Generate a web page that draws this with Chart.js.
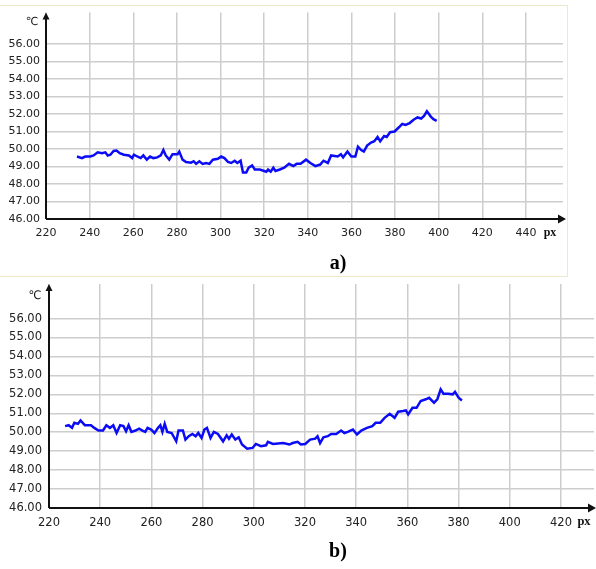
<!DOCTYPE html>
<html>
<head>
<meta charset="utf-8">
<script src="https://cdn.jsdelivr.net/npm/chart.js@4"></script>
<style>
  body { margin: 0; background: #fff; width: 596px; height: 569px; overflow: hidden; position: relative; }
  canvas { position: absolute; left: 0; }
  #frameA { position: absolute; left: -1px; top: 5px; width: 567px; height: 270px; border: 1px solid #efe9cc; }
  .cap { position: absolute; font: bold 20px "Liberation Serif", serif; color: #000; width: 60px; text-align: center; }
</style>
</head>
<body>
<div id="frameA"></div>
<canvas id="chartA" width="596" height="250" style="top:0"></canvas>
<canvas id="chartB" width="596" height="280" style="top:270px"></canvas>
<div class="cap" style="left:308px; top:251px">a)</div>
<div class="cap" style="left:308px; top:539px">b)</div>
<script>
// temperature along the profile, chart a)
const aX = [234.2, 236.5, 238, 240.3, 241.8, 243.7, 245.7, 247.2, 248.3, 249.5, 251, 252.3, 253.8, 255.7, 258, 259.5,
  260.3, 261.8, 263.4, 264.6, 266.2, 267.7, 269.2, 271, 272.6, 273.8, 274.9, 276.5, 278, 280.3, 281.1, 282.6, 284.2,
  286.5, 287.7, 288.8, 290.3, 291.8, 293.4, 294.9, 296.5, 298.8, 300.3, 301.8, 303.4, 304.9, 306.5, 307.7, 309.2,
  310.3, 311.8, 312.9, 314.5, 315.7, 318, 321, 321.8, 323, 324.2, 325.2, 327.2, 329.2, 331.4, 333.4, 334.9, 336.7,
  339.2, 341.2, 343.5, 345.7, 347.2, 349.2, 350.7, 353.7, 355.2, 356.2, 358.2, 360, 361.8, 363, 364.5, 365.7, 367.2,
  369, 370.5, 372, 373.2, 375, 376.2, 377.7, 379.8, 381.8, 383.3, 384.8, 386.7, 388.5, 390.3, 392, 393.3, 394.6,
  396.4, 397.6, 399.1];
const aY = [49.57, 49.48, 49.57, 49.57, 49.63, 49.81, 49.76, 49.81, 49.63, 49.67, 49.89, 49.91, 49.76, 49.67, 49.63, 49.48,
  49.67, 49.57, 49.48, 49.63, 49.39, 49.57, 49.48, 49.52, 49.63, 49.94, 49.63, 49.39, 49.70, 49.70, 49.85, 49.39, 49.26,
  49.22, 49.30, 49.15, 49.30, 49.15, 49.20, 49.15, 49.39, 49.44, 49.57, 49.48, 49.26, 49.20, 49.33, 49.20, 49.33,
  48.65, 48.65, 48.93, 49.06, 48.83, 48.83, 48.70, 48.83, 48.70, 48.93, 48.74, 48.83, 48.93, 49.15, 49.02, 49.15, 49.15,
  49.39, 49.20, 49.02, 49.11, 49.33, 49.20, 49.63, 49.57, 49.70, 49.52, 49.85, 49.57, 49.57, 50.13, 49.94, 49.85, 50.19,
  50.37, 50.44, 50.69, 50.44, 50.74, 50.69, 50.96, 51.00, 51.24, 51.43, 51.37, 51.48, 51.67, 51.80, 51.74, 51.89, 52.15,
  51.85, 51.70, 51.61];

// chart b)
const bX = [226.3, 227.7, 229, 229.9, 231.3, 232.3, 234, 236.4, 237.7, 239.3, 241.1, 242.4, 243.8, 245.1, 246.4, 247.8,
  249.1, 250.1, 251.1, 252.2, 253.8, 255.2, 256.5, 257.6, 258.5, 259.9, 261.2, 262.6, 263.5, 264.3, 265.2, 266.2, 267.9,
  269.7, 270.6, 272.3, 273.3, 274.6, 276, 277.3, 278.3, 279.6, 280.7, 281.7, 283.1, 284.4, 286, 288, 289.4, 290.3, 291.4,
  292.8, 294.1, 295.4, 297.4, 299.5, 300.8, 302.8, 304.8, 305.5, 307.5, 311.5, 313.9, 315.2, 317.1, 318.4, 320.1, 322,
  324, 324.9, 325.9, 327.2, 328.9, 330.2, 332.2, 334.1, 335.4, 336.7, 338.7, 340.3, 342, 344.2, 346.3, 347.6, 349.4,
  351.1, 353.1, 355, 356.4, 358.3, 359.4, 360.3, 362, 363.6, 365.2, 367.2, 368.5, 370.4, 371.7, 373, 374.1, 376, 377.7,
  378.6, 380, 381.3];
const bY = [50.32, 50.37, 50.23, 50.50, 50.44, 50.62, 50.37, 50.37, 50.23, 50.09, 50.09, 50.37, 50.23, 50.37, 49.96, 50.37,
  50.32, 50.05, 50.37, 50.02, 50.09, 50.19, 50.09, 50.02, 50.23, 50.14, 49.96, 50.23, 50.37, 50.02, 50.44, 50.02, 49.96,
  49.52, 50.09, 50.09, 49.61, 49.79, 49.91, 49.79, 49.96, 49.70, 50.14, 50.23, 49.70, 50.02, 49.91, 49.52, 49.84, 49.66, 49.88,
  49.61, 49.73, 49.35, 49.13, 49.17, 49.38, 49.26, 49.31, 49.49, 49.38, 49.43, 49.35, 49.43, 49.49, 49.35, 49.38, 49.61,
  49.66, 49.79, 49.43, 49.73, 49.79, 49.91, 49.91, 50.09, 49.96, 50.02, 50.14, 49.88, 50.09, 50.23, 50.32, 50.50, 50.50,
  50.76, 50.97, 50.76, 51.08, 51.12, 51.15, 50.94, 51.29, 51.29, 51.65, 51.74, 51.82, 51.56, 51.74, 52.26, 52.03, 52.03, 52.00,
  52.13, 51.82, 51.68];

const yTicks = [46, 47, 48, 49, 50, 51, 52, 53, 54, 55, 56];
const aXTicks = [220, 240, 260, 280, 300, 320, 340, 360, 380, 400, 420, 440];
const bXTicks = [220, 240, 260, 280, 300, 320, 340, 360, 380, 400, 420];

// axes with arrow heads plus the unit labels
const arrowAxes = {
  id: 'arrowAxes',
  afterDraw(chart, args, opts) {
    const { ctx, chartArea: ca } = chart;
    const x0 = ca.left, y0 = ca.bottom;
    ctx.save();
    ctx.strokeStyle = '#111';
    ctx.fillStyle = '#111';
    ctx.lineWidth = 2;
    ctx.beginPath();
    ctx.moveTo(x0, y0);
    ctx.lineTo(x0, ca.top + 4);
    ctx.moveTo(x0, y0);
    ctx.lineTo(opts.xTip - 4, y0);
    ctx.stroke();
    ctx.beginPath();
    ctx.moveTo(x0, ca.top);
    ctx.lineTo(x0 - 3.5, ca.top + 7);
    ctx.lineTo(x0 + 3.5, ca.top + 7);
    ctx.closePath();
    ctx.fill();
    ctx.beginPath();
    ctx.moveTo(opts.xTip, y0);
    ctx.lineTo(opts.xTip - 8, y0 - 4.5);
    ctx.lineTo(opts.xTip - 8, y0 + 4.5);
    ctx.closePath();
    ctx.fill();
    ctx.font = opts.size + 'px "DejaVu Sans"';
    ctx.textAlign = 'center';
    ctx.textBaseline = 'middle';
    ctx.fillText('℃', opts.cx, opts.cy);
    ctx.font = 'bold ' + (opts.size + 1) + 'px "Liberation Serif"';
    ctx.fillText('px', opts.px, opts.py);
    ctx.restore();
  }
};

function makeChart(id, xs, ys, xTicks, cfg) {
  const pts = xs.map((x, i) => ({ x: x, y: ys[i] }));
  return new Chart(document.getElementById(id), {
    type: 'line',
    data: {
      datasets: [{
        data: pts,
        borderColor: '#0b0bf5',
        borderWidth: 2.5,
        pointRadius: 0,
        tension: 0,
        fill: false
      }]
    },
    options: {
      responsive: false,
      animation: false,
      devicePixelRatio: 1,
      layout: { padding: { left: 0, top: cfg.top, right: cfg.right, bottom: 0 } },
      plugins: {
        legend: { display: false },
        tooltip: { enabled: false },
        arrowAxes: cfg.arrows
      },
      scales: {
        x: {
          type: 'linear',
          min: 220,
          max: cfg.xMax,
          afterBuildTicks: s => { s.ticks = xTicks.map(v => ({ value: v })); },
          afterFit: s => { s.height = cfg.xHeight; },
          border: { display: false },
          grid: { color: '#cdcdcd', lineWidth: 1.5, drawTicks: false },
          ticks: { padding: cfg.xPad, color: '#222', font: { family: 'DejaVu Sans', size: cfg.font } }
        },
        y: {
          min: 46,
          max: cfg.yMax,
          afterBuildTicks: s => { s.ticks = yTicks.map(v => ({ value: v })); },
          afterFit: s => { s.width = cfg.yWidth; },
          border: { display: false },
          grid: { color: '#cdcdcd', lineWidth: 1.5, drawTicks: false },
          ticks: {
            padding: cfg.yPad,
            color: '#222',
            font: { family: 'DejaVu Sans', size: cfg.font },
            callback: v => v.toFixed(2)
          }
        }
      }
    },
    plugins: [arrowAxes]
  });
}

makeChart('chartA', aX, aY, aXTicks, {
  top: 8, right: 33, xMax: 457, yMax: 57.79, xHeight: 31, yWidth: 46, xPad: 8, yPad: 6, font: 11,
  arrows: { xTip: 566, cx: 32, cy: 22, px: 550, py: 233, size: 11 }
});

makeChart('chartB', bX, bY, bXTicks, {
  top: 13, right: 2, xMax: 432.9, yMax: 57.83, xHeight: 42, yWidth: 49, xPad: 8, yPad: 7, font: 11.5,
  arrows: { xTip: 596, cx: 35, cy: 26, px: 584, py: 252, size: 11.5 }
});
</script>
</body>
</html>
